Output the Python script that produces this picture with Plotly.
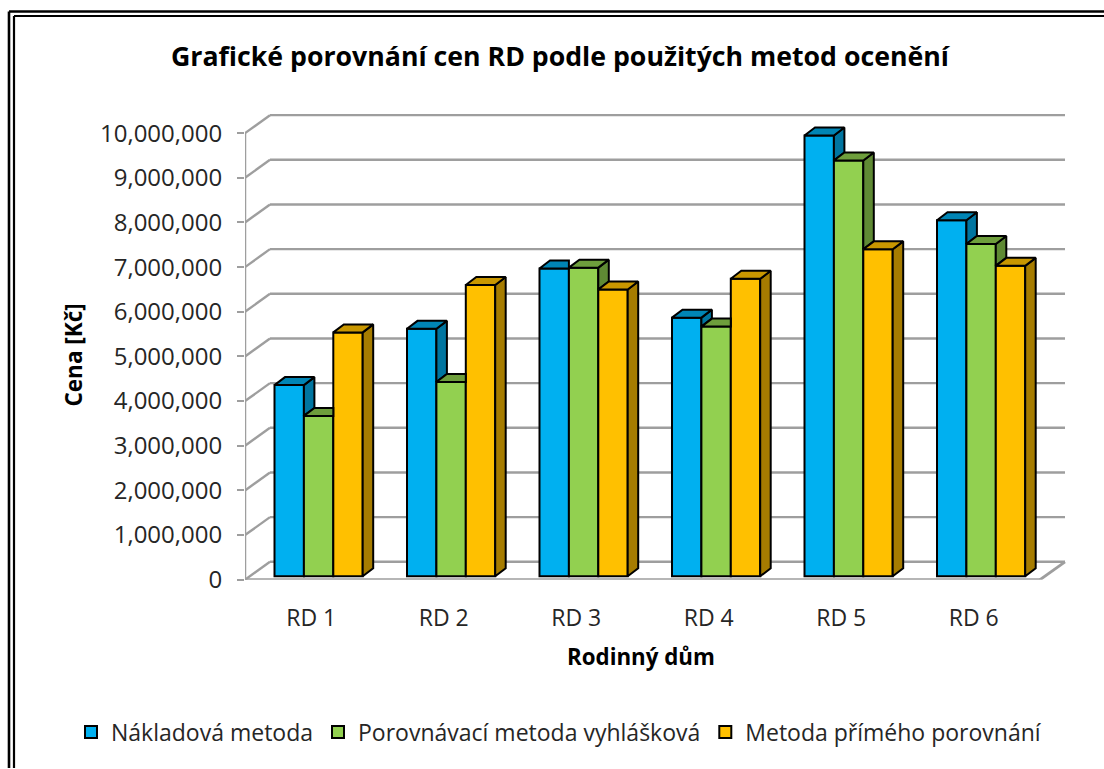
import plotly.graph_objects as go

categories = ["RD 1", "RD 2", "RD 3", "RD 4", "RD 5", "RD 6"]
naklad = [4280000, 5540000, 6890000, 5790000, 9870000, 7970000]
porovn = [3590000, 4350000, 6910000, 5590000, 9310000, 7440000]
prime = [5460000, 6520000, 6420000, 6660000, 7320000, 6950000]
series_names = ["Nákladová metoda", "Porovnávací metoda vyhlášková", "Metoda přímého porovnání"]
series_values = [naklad, porovn, prime]
front_colors = ["#00B0F0", "#92D050", "#FFC000"]
top_colors = ["#0085B5", "#6E9E3C", "#C99700"]
side_colors = ["#0075A0", "#5F8A34", "#A67C00"]
y_ticks = [i * 1000000 for i in range(11)]

W, H = 1104, 769
X0, X_END = 245, 1072      # pixel extent of the x axis
Y0, Y_TOP = 580.5, 105     # pixel extent of the y axis
PX_CAT = 132.5             # pixels per category
PX_VAL = 44.72 / 1e6       # pixels per unit
wall_dx, wall_dy = 25 / PX_CAT, 18 / PX_VAL
bar_dx, bar_dy = 10.5 / PX_CAT, 8 / PX_VAL
bar_w = 29.4 / PX_CAT
bar_start = 29.5 / PX_CAT
bar_base = 3.5 / PX_VAL
n_cat = len(categories)
GRID = "#9E9E9E"

fig = go.Figure()

# front faces
for j, (name, vals) in enumerate(zip(series_names, series_values)):
    fig.add_trace(go.Bar(
        name=name,
        x=[i + bar_start + bar_w * (j + 0.5) for i in range(n_cat)],
        y=vals, base=bar_base, width=bar_w,
        marker=dict(color=front_colors[j], line=dict(color="black", width=2)),
        hoverinfo="skip",
    ))


def poly(xs, ys, color):
    fig.add_trace(go.Scatter(
        x=xs + xs[:1], y=ys + ys[:1], mode="lines", fill="toself", fillcolor=color,
        line=dict(color="black", width=2), showlegend=False, cliponaxis=False,
        hoverinfo="skip",
    ))


# depth faces, painted left to right, trimmed against a taller neighbour
for i in range(n_cat):
    for j in range(3):
        left = i + bar_start + bar_w * j
        right = left + bar_w
        top = series_values[j][i] + bar_base
        nxt = series_values[j + 1][i] + bar_base if j < 2 else bar_base
        if nxt < top:
            poly([right, right + bar_dx, right + bar_dx, right],
                 [nxt, nxt + bar_dy, top + bar_dy, top], side_colors[j])
            poly([left, right, right + bar_dx, left + bar_dx],
                 [top, top, top + bar_dy, top + bar_dy], top_colors[j])
        else:
            poly([left, right, right, left + bar_dx],
                 [top, top, top + bar_dy, top + bar_dy], top_colors[j])

# value axis line
fig.add_trace(go.Scatter(x=[0, 0], y=[y_ticks[0], y_ticks[-1]], mode="lines",
                         line=dict(color=GRID, width=2.5), showlegend=False,
                         cliponaxis=False, hoverinfo="skip"))

shapes = []


def seg(x0, y0, x1, y1, width=2.4):
    shapes.append(dict(type="line", xref="x", yref="y", x0=x0, y0=y0, x1=x1, y1=y1,
                       layer="below", line=dict(color=GRID, width=width)))


for t in y_ticks:
    seg(0, t, wall_dx, t + wall_dy)
    seg(wall_dx, t + wall_dy, n_cat + wall_dx, t + wall_dy)
seg(0, y_ticks[0], n_cat, y_ticks[0], 2.8)
seg(n_cat, y_ticks[0], n_cat + wall_dx, y_ticks[0] + wall_dy, 2.8)

# double frame, open to the right and at the bottom of the picture
for px, py, wd in [(9, 11.5, 2.6), (14, 16, 2.2)]:
    shapes.append(dict(type="line", xref="paper", yref="paper",
                       x0=px / W, x1=px / W, y0=0, y1=1 - py / H,
                       line=dict(color="black", width=wd)))
    shapes.append(dict(type="line", xref="paper", yref="paper",
                       x0=px / W, x1=1, y0=1 - py / H, y1=1 - py / H,
                       line=dict(color="black", width=wd)))

FONT = "Open Sans"
TEXT = "#262626"
annotations = [
    dict(text="<b>Rodinný dům</b>", xref="paper", yref="paper", x=641 / W, y=1 - 657 / H,
         xanchor="center", yanchor="middle", showarrow=False,
         font=dict(family=FONT, size=22.3, color="black")),
    dict(text="<b>Cena [Kč]</b>", xref="paper", yref="paper", x=74 / W, y=1 - 356 / H,
         xanchor="center", yanchor="middle", showarrow=False, textangle=-90,
         font=dict(family=FONT, size=22.5, color="black")),
]
fig.update_layout(
    width=W, height=783, margin=dict(l=0, r=0, t=0, b=0),
    paper_bgcolor="white", plot_bgcolor="white",
    barmode="overlay", shapes=shapes, annotations=annotations,
    font=dict(family=FONT, color=TEXT),
    title=dict(text="<b>Grafické porovnání cen RD podle použitých metod ocenění</b>",
               x=560 / W, xanchor="center", y=1 - 56 / H, yanchor="middle",
               font=dict(family=FONT, size=26.7, color="black")),
    xaxis=dict(domain=[X0 / W, X_END / W], range=[0, (X_END - X0) / PX_CAT],
               tickmode="array", tickvals=[i + 0.5 for i in range(n_cat)], ticktext=categories,
               showgrid=False, zeroline=False, showline=False,
               ticks="outside", ticklen=18, tickcolor="rgba(0,0,0,0)",
               tickfont=dict(size=23, color=TEXT)),
    yaxis=dict(domain=[1 - Y0 / H, 1 - Y_TOP / H], range=[0, (Y0 - Y_TOP) / PX_VAL],
               tickmode="array", tickvals=y_ticks, tickformat=",d",
               showgrid=False, zeroline=False, showline=False,
               ticks="outside", ticklen=7, tickwidth=2.2, tickcolor=GRID,
               ticklabelstandoff=10,
               tickfont=dict(size=24, color=TEXT)),
    legend=dict(orientation="h", x=559 / W, xanchor="center", y=1 - 733 / H, yanchor="middle",
                font=dict(size=23, color=TEXT), itemwidth=30, traceorder="normal",
                bgcolor="rgba(0,0,0,0)"),
)

fig.write_html("out.html", config={"displayModeBar": False, "responsive": False},
               default_width="1104px", default_height="783px",
               post_script="document.body.style.margin='0';document.body.style.overflow='hidden';")
